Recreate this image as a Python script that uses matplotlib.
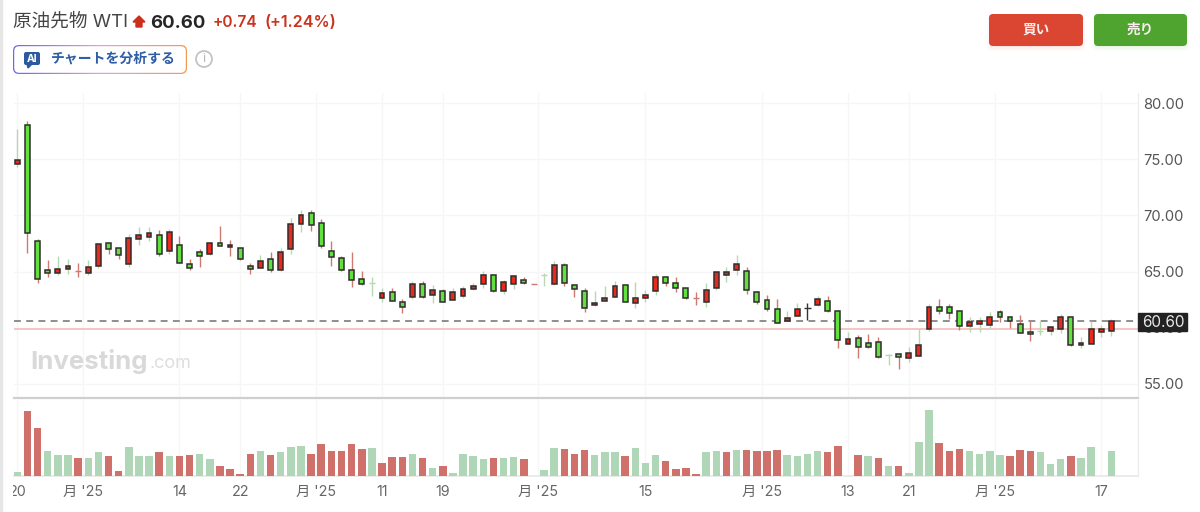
import numpy as np
import matplotlib
matplotlib.use("Agg")
import matplotlib.pyplot as plt
from matplotlib.patches import FancyBboxPatch, Polygon, Circle, Rectangle
from matplotlib.transforms import Bbox

plt.rcParams["font.family"] = ["Inter", "Noto Sans CJK JP", "DejaVu Sans"]

high = [77.66,78.40,67.90,66.03,66.41,66.12,65.79,66.03,67.45,67.57,67.13,68.31,68.93,68.93,68.70,68.82,68.19,66.15,67.04,67.63,
        69.05,67.78,67.13,65.79,66.44,66.71,67.13,69.74,70.48,70.48,69.65,67.75,66.42,66.71,65.08,64.55,63.51,63.51,62.59,64.16,
        64.16,63.81,63.42,63.51,63.72,63.96,65.08,64.79,64.25,64.70,64.55,63.93,64.84,65.97,65.73,63.81,63.51,63.30,63.72,64.16,
        63.81,64.04,63.36,64.76,64.61,64.55,63.57,63.21,63.95,64.96,65.38,66.45,65.38,63.27,62.89,62.59,61.46,62.17,62.17,62.86,
        62.86,61.58,59.65,59.36,59.45,59.15,57.67,57.78,58.32,59.86,62.11,62.59,62.14,61.52,60.99,60.99,61.37,61.58,60.99,61.13,
        60.57,60.57,60.16,61.22,60.99,59.15,60.57,60.25,60.81]
low = [74.33,66.62,64.01,64.55,64.69,64.75,64.55,64.66,65.29,66.53,66.15,65.41,67.39,67.69,66.41,66.53,65.73,65.17,65.41,66.44,
       67.24,66.41,66.00,64.75,65.29,64.99,65.08,66.53,68.55,68.61,67.07,65.50,65.08,63.60,63.81,62.83,62.32,62.38,61.35,62.59,
       62.62,62.18,62.32,62.47,62.62,63.36,63.57,63.15,63.01,63.42,63.90,63.87,63.75,63.81,63.72,62.71,61.43,61.94,62.38,62.71,
       62.29,61.76,62.26,62.92,63.75,63.21,62.59,62.00,61.82,63.36,64.04,64.67,63.01,62.09,61.46,60.40,60.60,61.02,60.69,61.97,
       61.40,58.23,58.53,57.28,58.17,57.28,56.66,56.36,56.98,57.49,59.74,61.22,60.75,59.80,59.65,59.65,59.98,60.54,59.95,59.50,
       58.85,59.36,59.36,59.56,58.38,58.17,58.56,59.21,59.27]
open_ = [74.57,78.04,67.75,65.17,64.90,65.20,64.99,64.90,65.52,67.54,67.10,65.64,67.93,68.10,68.25,66.80,67.33,65.67,66.71,66.59,
         67.54,67.21,67.13,65.47,65.35,66.09,65.14,67.01,69.26,70.24,69.29,66.83,66.18,65.14,64.31,63.98,62.62,63.15,62.32,62.74,
         63.87,62.92,63.27,62.50,62.83,63.45,63.87,64.73,63.27,63.87,64.22,63.93,64.70,63.87,65.56,63.78,63.27,62.00,62.38,62.74,
         63.81,62.20,62.62,63.24,64.52,64.01,63.57,62.71,62.29,63.57,64.70,65.11,65.05,63.18,62.44,61.70,60.63,61.05,61.76,62.00,
         62.35,61.49,58.58,59.12,58.62,58.70,57.58,57.67,57.31,57.52,59.89,61.82,61.82,61.52,60.16,60.33,60.25,61.40,60.99,60.36,
         59.62,59.77,59.71,59.92,60.99,58.50,58.58,59.62,59.71]
close = [74.93,68.46,64.31,64.90,65.26,65.47,65.08,65.44,67.42,66.98,66.47,67.96,68.25,68.40,66.56,68.49,65.76,65.35,66.35,67.51,
         67.30,67.33,66.15,65.23,65.97,65.14,66.71,69.20,70.04,69.18,67.31,66.27,65.14,64.28,63.87,63.93,63.07,62.41,61.88,63.87,
         62.74,63.36,62.32,63.15,63.48,63.69,64.73,63.27,64.10,64.61,63.96,63.87,64.64,65.56,63.98,63.45,61.79,62.23,62.68,63.69,
         62.29,62.62,62.95,64.52,63.95,63.51,62.62,62.65,63.36,64.93,64.93,65.67,63.36,62.32,61.70,60.45,60.87,61.70,61.70,62.56,
         61.46,58.88,59.00,58.26,58.26,57.40,57.52,57.40,57.75,58.50,61.82,61.46,61.28,60.16,60.48,60.57,60.99,60.99,60.57,59.50,
         59.42,59.71,60.07,60.99,58.47,58.62,59.92,59.86,60.57]
wick_side = ("grrrggrggrrgggrgrrrg" "rrrrgrgggrrrrrrggrrg" "rgrggggrggrrggrrrggg"
             "ggggrrrrggggrrrrggkg" "rrgrrrgrgggrrrgggrrr" "rgggrgggg")
volume = [9,192,142,72,61,61,51,51,69,58,12,86,58,58,69,58,58,61,65,48,
          27,20,3,65,72,61,69,86,89,65,93,72,72,93,79,83,37,55,55,65,
          51,23,27,6,65,58,48,51,51,55,48,0,16,82,79,65,75,61,69,69,
          58,82,37,61,44,20,23,3,69,72,69,75,75,72,72,75,61,58,65,72,
          69,89,0,61,58,51,27,27,6,100,195,96,72,79,72,65,72,61,58,75,
          72,69,34,48,58,51,86,0,72]
vol_side = ("grrgggrggrrgggrgrrgg" "rrrrgrgggrrrrrrgrrrg" "rgrggggrggrgggrrrggg"
            "rgggrrrrggrgrrrrgggg" "rrgrgrgrgggrrrggggrr" "rgggrgggg")
tick_pos = [0, 6.45, 16, 22, 29.5, 36, 42, 51.4, 62, 73.5, 82, 88, 96.5, 107]
tick_labels = ["20", "月 '25", "14", "22", "月 '25", "11", "19", "月 '25", "15", "月 '25", "13", "21", "月 '25", "17"]
price_ticks = [55, 60, 65, 70, 75, 80]
last_price = 60.60
prev_close = 59.86

W, H = 1200, 512
GREEN_BODY, RED_BODY = "#62e03e", "#e8291b"
WICK = {"g": "#b7d9b2", "r": "#cf7a70", "k": "#333333"}
VOL = {"g": "#afd6b6", "r": "#d0706b"}
GRID = "#f6f6f6"


def px_axes(x0, y0, x1, y1, **kw):
    return fig.add_axes([x0 / W, 1 - y1 / H, (x1 - x0) / W, (y1 - y0) / H], **kw)


fig = plt.figure(figsize=(W / 100, H / 100), dpi=100, facecolor="white")
ax = px_axes(14, 93, 1138, 398)
vx = px_axes(14, 400, 1138, 475.5, sharex=ax)
ui = px_axes(0, 0, W, H, zorder=5)
ui.set_xlim(0, W)
ui.set_ylim(H, 0)
ui.axis("off")
ui.patch.set_alpha(0)

idx = np.arange(len(close))
ax.set_xlim(-0.33, 110.63)
ax.set_ylim(53.75, 80.89)
vx.set_ylim(0, 226)

# candles
for i in idx:
    c = WICK[wick_side[i]]
    ax.vlines(i, low[i], high[i], color=c, lw=1.0, zorder=3)
    if abs(open_[i] - close[i]) < 0.1:
        ax.hlines((open_[i] + close[i]) / 2, i - 0.3, i + 0.3, color=c, lw=1.0, zorder=4)
    else:
        col = RED_BODY if close[i] > open_[i] else GREEN_BODY
        ax.bar(i, abs(close[i] - open_[i]), 0.48, bottom=min(open_[i], close[i]), color=col,
               edgecolor="#2e2e2e", lw=1.1, zorder=4)

vx.bar(idx, volume, 0.74, color=[VOL[s] for s in vol_side], zorder=3)

ax.axhline(last_price, color="#707070", lw=1.1, dashes=(4.5, 3.5), zorder=2)
ax.axhline(prev_close, color="#f3b9b5", lw=1.1, zorder=2)

for a in (ax, vx):
    a.set_facecolor("white")
    a.grid(True, axis="x", color=GRID, lw=1)
    a.set_axisbelow(True)
    for s in a.spines.values():
        s.set_visible(False)
    a.spines["right"].set_visible(True)
    a.spines["right"].set_color("#ebebeb")
ax.grid(True, axis="y", color=GRID, lw=1)
ax.spines["bottom"].set_visible(True)
ax.spines["bottom"].set_color("#cfcfcf")
ax.spines["bottom"].set_linewidth(1.6)
vx.spines["bottom"].set_visible(True)
vx.spines["bottom"].set_color("#ebebeb")
vx.spines["bottom"].set_linewidth(1.4)

ax.yaxis.tick_right()
ax.set_yticks(price_ticks)
ax.set_yticklabels([f"{p:.2f}" for p in price_ticks], color="#555555", fontsize=10.6, fontfamily=["Inter"])
ax.tick_params(axis="y", length=0, pad=4)
ax.tick_params(axis="x", length=0, labelbottom=False)
vx.set_yticks([])
vx.set_xticks(tick_pos)
vx.set_xticklabels(tick_labels, color="#666666", fontsize=10.3)
vx.tick_params(axis="x", length=0, pad=7)
first = vx.get_xticklabels()[0]
first.set_clip_on(True)
first.set_clip_box(Bbox([[13, 0], [W, H]]))

# watermark
ax.text(30, 361, "Investing", transform=ui.transData, color="#d9d9d9", fontsize=18.6, fontweight="bold",
        va="center", ha="left", zorder=1)
ax.text(150, 364, ".com", transform=ui.transData, color="#dedede", fontsize=13, va="center", ha="left", zorder=1)

# last price flag
ui.add_patch(Rectangle((1138, 313), 49, 18, color="#222222", zorder=3))
ui.text(1163, 322.5, f"{last_price:.2f}", color="#e8e8e8", fontsize=11, ha="center", va="center", zorder=4)

# header
ui.add_patch(Rectangle((0, 0), 1.5, H, color="#e6e6e6"))
ui.text(13, 22, "原油先物 WTI", color="#444444", fontsize=13.4, va="center", ha="left")
ui.add_patch(Polygon([(139, 16), (145, 22), (142, 22), (142, 27), (136, 27), (136, 22), (133, 22)], color="#cc2f1c"))
ui.text(150, 23, "60.60", color="#262626", fontsize=13.3, fontweight="bold", va="center", ha="left")
ui.text(213, 22.5, "+0.74", color="#c9341f", fontsize=11.2, fontweight="semibold", va="center", ha="left")
ui.text(265, 22.5, "(+1.24%)", color="#c9341f", fontsize=11.6, fontweight="semibold", va="center", ha="left")

# AI button with gradient outline
grad = np.linspace(0, 1, 256)[None, :, None]
c0, c1, c2 = np.array([0.42, 0.40, 0.93]), np.array([0.93, 0.60, 0.85]), np.array([0.96, 0.60, 0.30])
img = np.where(grad < 0.5, c0 + (c1 - c0) * grad * 2, c1 + (c2 - c1) * (grad - 0.5) * 2)
im = ui.imshow(img, extent=(13, 187, 74, 45), aspect="auto", zorder=1)
outer = FancyBboxPatch((17, 49), 166, 21, boxstyle="round,pad=4,rounding_size=6", fc="none", ec="none",
                       transform=ui.transData)
ui.add_patch(outer)
im.set_clip_path(outer)
ui.add_patch(FancyBboxPatch((17, 49), 166, 21, boxstyle="round,pad=2.8,rounding_size=5", fc="white", ec="none", zorder=2))
ui.set_xlim(0, W)
ui.set_ylim(H, 0)
ui.add_patch(FancyBboxPatch((25, 53), 14, 11, boxstyle="round,pad=1,rounding_size=2", fc="#2b5a9e", ec="none", zorder=3))
ui.add_patch(Polygon([(27, 64), (32, 64), (28, 68)], color="#2b5a9e", zorder=3))
ui.text(32, 58.5, "AI", color="white", fontsize=7.5, fontweight="bold", ha="center", va="center", zorder=4)
ui.text(51, 59, "チャートを分析する", color="#2f5ea6", fontsize=10, fontweight="bold", va="center", ha="left", zorder=4)
ui.add_patch(Circle((204, 59), 8, fc="white", ec="#c4c4c4", lw=1.3))
ui.text(204, 59, "i", color="#b5b5b5", fontsize=9, ha="center", va="center")

# buttons
for x0, x1, col, label in [(989, 1083, "#db4633", "買い"), (1094, 1187, "#4ea42f", "売り")]:
    for grow, alpha in [(6, 0.03), (4, 0.04), (2, 0.06)]:
        ui.add_patch(FancyBboxPatch((x0 + 4 - grow, 18 + 3 - grow), x1 - x0 - 8 + 2 * grow, 24 + 2 * grow,
                                    boxstyle="round,pad=0,rounding_size=5", fc=col, ec="none", alpha=alpha))
    ui.add_patch(FancyBboxPatch((x0 + 4, 18), x1 - x0 - 8, 24, boxstyle="round,pad=4,rounding_size=4", fc=col, ec="none"))
    ui.text((x0 + x1) / 2, 30, label, color="#fbeeee", fontsize=9.8, fontweight="bold", ha="center", va="center")

fig.savefig("out.png", dpi=100)
